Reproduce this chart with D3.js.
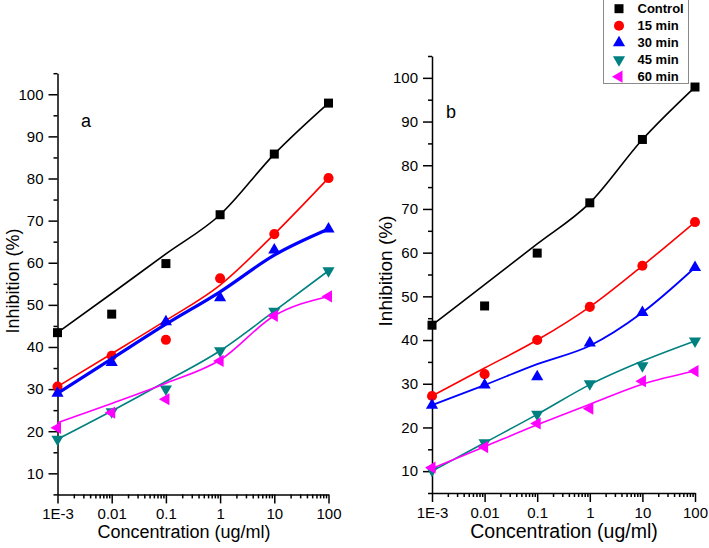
<!DOCTYPE html>
<html>
<head>
<meta charset="utf-8">
<script src="https://cdn.jsdelivr.net/npm/d3@7"></script>
<style>
  html, body { margin: 0; padding: 0; background: #fff; }
  svg { display: block; font-family: "Liberation Sans", Arial, sans-serif; }
</style>
</head>
<body>
<svg id="chart" width="709" height="548"></svg>
<script>
// ---------- DATA ----------
const concentrations = [0.001, 0.01, 0.1, 1, 10, 100];
const xTickLabels = ["1E-3", "0.01", "0.1", "1", "10", "100"];
const yTickValues = [10, 20, 30, 40, 50, 60, 70, 80, 90, 100];
const seriesNames = ["Control", "15 min", "30 min", "45 min", "60 min"];
const panelLabels = ["a", "b"];

// Panel a : measured points
const aControl = [43.4, 47.8, 59.8, 71.4, 85.8, 97.9];
const a15 = [30.6, 37.9, 41.7, 56.3, 66.8, 80.1];
const a30 = [29.0, 36.3, 46.0, 51.7, 63.0, 68.0];
const a45 = [18.1, 24.6, 30.0, 39.1, 48.5, 58.1];
const a60 = [20.8, 24.4, 27.6, 36.7, 47.4, 52.0];
// Panel a : fitted lines
const aControlFit = [43.4, 52.7, 62.1, 71.4, 85.8, 97.9];
const a15Fit = [30.6, 38.4, 46.3, 54.7, 66.8, 80.1];
const a30Fit = [29.0, 37.2, 45.4, 53.1, 61.8, 68.0];
const a45Fit = [18.1, 24.8, 31.8, 39.1, 48.5, 58.1];
const a60Fit = [22.0, 26.6, 31.4, 36.9, 47.4, 52.0];

// Panel b : measured points
const bControl = [43.4, 47.8, 59.9, 71.4, 85.9, 97.9];
const b15 = [27.2, 32.2, 40.0, 47.6, 57.0, 67.0];
const b30 = [25.1, 29.7, 31.6, 39.3, 46.3, 56.6];
const b45 = [10.2, 16.5, 23.0, 30.0, 34.1, 39.8];
const b60 = [10.8, 15.5, 20.9, 24.3, 30.6, 32.9];
// Panel b : fitted lines
const bControlFit = [43.4, 52.7, 62.0, 71.4, 85.9, 97.9];
const b15Fit = [27.2, 33.6, 40.0, 47.6, 57.0, 67.0];
const b30Fit = [25.1, 29.7, 34.5, 38.7, 46.3, 56.6];
const b45Fit = [10.0, 16.5, 23.0, 29.8, 35.2, 39.8];
const b60Fit = [10.6, 15.6, 20.6, 25.3, 29.9, 32.9];

// ---------- STYLE ----------
const colors = ["#000000", "#ff0000", "#0000ff", "#008080", "#ff00ff"];
const symbolKinds = ["square", "circle", "up", "down", "left"];

const svg = d3.select("#chart");

function symbolPath(kind) {
  if (kind === "square") return d3.symbol(d3.symbolSquare).size(81)();
  if (kind === "circle") return d3.symbol(d3.symbolCircle).size(80)();
  return d3.symbol(d3.symbolTriangle).size(64)();
}
function symbolRot(kind) {
  if (kind === "down") return 180;
  if (kind === "left") return -90;
  return 0;
}

const minorX = [];
[0.001, 0.01, 0.1, 1, 10].forEach(d => { for (let k = 2; k <= 9; k++) minorX.push(d * k); });
const minorY = d3.range(5, 106, 10);

function drawPanel(cfg) {
  const x = d3.scaleLog().domain([1e-3, 100]).range([cfg.x0, cfg.x1]);
  const y = d3.scaleLinear().domain([5, 105]).range([cfg.y0, cfg.y1]);
  const g = svg.append("g");

  // x axis
  const gx = g.append("g").attr("transform", `translate(0,${cfg.y0})`)
    .call(d3.axisBottom(x).tickValues(concentrations)
      .tickFormat((d, i) => xTickLabels[i]).tickSize(9).tickSizeOuter(0).tickPadding(5));
  gx.selectAll("text").attr("font-size", 15).attr("fill", "#000").attr("font-family", "Liberation Sans, Arial, sans-serif");
  g.append("g").attr("transform", `translate(0,${cfg.y0})`)
    .call(d3.axisBottom(x).tickValues(minorX).tickFormat("").tickSize(4).tickSizeOuter(0))
    .select(".domain").remove();

  // y axis
  const gy = g.append("g").attr("transform", `translate(${cfg.x0},0)`)
    .call(d3.axisLeft(y).tickValues(yTickValues).tickSize(9).tickSizeOuter(0).tickPadding(5));
  gy.selectAll("text").attr("font-size", 15).attr("fill", "#000").attr("font-family", "Liberation Sans, Arial, sans-serif");
  g.append("g").attr("transform", `translate(${cfg.x0},0)`)
    .call(d3.axisLeft(y).tickValues(minorY).tickFormat("").tickSize(4).tickSizeOuter(0))
    .select(".domain").remove();

  g.selectAll(".domain, .tick line").attr("stroke", "#000").attr("stroke-width", 1.5);

  // titles
  g.append("text").attr("x", cfg.xtX).attr("y", 538).attr("text-anchor", "middle")
    .attr("font-size", cfg.xtSize).attr("fill", "#000").text("Concentration (ug/ml)");
  g.append("text").attr("transform", `translate(${cfg.ytX},${cfg.ytY}) rotate(-90)`)
    .attr("text-anchor", "middle").attr("font-size", cfg.ytSize).attr("fill", "#000").text("Inhibition (%)");
  g.append("text").attr("x", cfg.labX).attr("y", cfg.labY).attr("font-size", 18)
    .attr("fill", "#000").text(cfg.label);

  const line = d3.line().x((d, i) => x(concentrations[i])).y(d => y(d)).curve(d3.curveMonotoneX);

  cfg.points.forEach((pts, s) => {
    g.append("path").attr("d", line(cfg.fits[s])).attr("fill", "none")
      .attr("stroke", colors[s]).attr("stroke-width", cfg.widths[s]);
    g.selectAll(null).data(pts).enter().append("path")
      .attr("d", symbolPath(symbolKinds[s]))
      .attr("transform", (d, i) => `translate(${x(concentrations[i])},${y(d)}) rotate(${symbolRot(symbolKinds[s])})`)
      .attr("fill", colors[s]);
  });
}

drawPanel({
  x0: 57.5, x1: 328.5, y0: 494.4, y1: 73.2,
  label: panelLabels[0], labX: 81, labY: 127,
  xtX: 184, xtSize: 18, ytX: 18.5, ytY: 281, ytSize: 18,
  points: [aControl, a15, a30, a45, a60],
  fits: [aControlFit, a15Fit, a30Fit, a45Fit, a60Fit],
  widths: [1.6, 1.6, 3.2, 1.6, 1.6]
});
drawPanel({
  x0: 432, x1: 695, y0: 493, y1: 56,
  label: panelLabels[1], labX: 446, labY: 118,
  xtX: 564, xtSize: 19.5, ytX: 392, ytY: 271, ytSize: 19,
  points: [bControl, b15, b30, b45, b60],
  fits: [bControlFit, b15Fit, b30Fit, b45Fit, b60Fit],
  widths: [1.6, 1.6, 1.8, 1.6, 1.6]
});

// legend
const lg = svg.append("g");
lg.append("rect").attr("x", 603.5).attr("y", -1).attr("width", 85).attr("height", 84.5)
  .attr("fill", "#fff").attr("stroke", "#8a8a8a").attr("stroke-width", 1);
seriesNames.forEach((name, s) => {
  const cy = 8.7 + s * 17;
  lg.append("path").attr("d", symbolPath(symbolKinds[s]))
    .attr("transform", `translate(619,${cy}) rotate(${symbolRot(symbolKinds[s])})`)
    .attr("fill", colors[s]);
  lg.append("text").attr("x", 637.5).attr("y", cy + 4.6).attr("font-size", 13)
    .attr("font-weight", "bold").attr("fill", "#000").text(name);
});
</script>
</body>
</html>
